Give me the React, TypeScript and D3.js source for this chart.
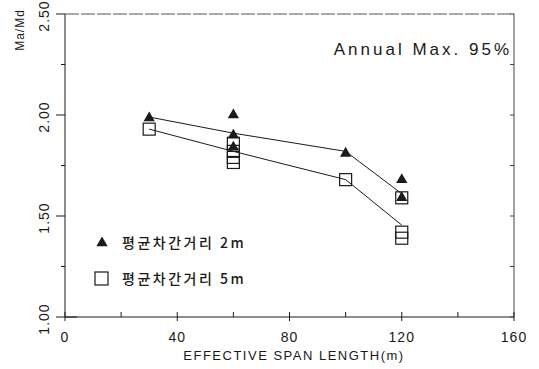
import React from "react";
import * as d3 from "d3";

const xTicks = [0, 40, 80, 120, 160];
const xMinorTicks = [0, 20, 40, 60, 80, 100, 120, 140, 160];
const yTicks = [1.0, 1.5, 2.0, 2.5];
const yTickLabels = ["1.00", "1.50", "2.00", "2.50"];
const yMinorTicks = [1.0, 1.25, 1.5, 1.75, 2.0, 2.25, 2.5];

// 평균차간거리 2m (triangles)
const triX = [30, 60, 60, 60, 100, 120, 120];
const triY = [1.985, 2.0, 1.9, 1.84, 1.81, 1.68, 1.59];
// 평균차간거리 5m (squares)
const sqX = [30, 60, 60, 60, 60, 100, 120, 120, 120];
const sqY = [1.93, 1.86, 1.82, 1.79, 1.765, 1.68, 1.59, 1.42, 1.39];

// mean lines
const lineX = [30, 60, 100, 120];
const line2Y = [1.99, 1.91, 1.82, 1.61];
const line5Y = [1.93, 1.82, 1.68, 1.455];

const legendLabels = ["평균차간거리 2m", "평균차간거리 5m"];
const annotation = "Annual  Max.  95%";
const xTitle = "EFFECTIVE  SPAN  LENGTH(m)";
const yTitle = "Ma/Md";

export default function App() {
  const W = 539, H = 369;
  const x = d3.scaleLinear().domain([0, 160]).range([65, 514]);
  const y = d3.scaleLinear().domain([1, 2.5]).range([317, 14]);
  const line = d3.line<[number, number]>().x(d => x(d[0])).y(d => y(d[1]));
  const l2 = line(lineX.map((v, i) => [v, line2Y[i]] as [number, number])) || "";
  const l5 = line(lineX.map((v, i) => [v, line5Y[i]] as [number, number])) || "";
  const tri = d3.symbol().type(d3.symbolTriangle).size(55)() || "";
  const font = "'Liberation Sans', 'DejaVu Sans', sans-serif";
  const ink = "#1a1a1a";
  return (
    <div style={{ position: "absolute", left: 0, top: 0 }}>
      <svg width={W} height={H} style={{ display: "block", background: "#fff" }}>
        {/* frame */}
        <line x1={x(0)} x2={x(160)} y1={y(1)} y2={y(1)} stroke={ink} strokeWidth={1} />
        <line x1={x(0)} x2={x(0)} y1={y(1)} y2={y(2.5)} stroke={ink} strokeWidth={1} />
        <line x1={x(0)} x2={x(160)} y1={y(2.5)} y2={y(2.5)} stroke="#555" strokeWidth={1} strokeDasharray="14 2" />
        <line x1={x(160)} x2={x(160)} y1={y(1)} y2={y(2.5)} stroke="#444" strokeWidth={1} />
        {/* x ticks */}
        {xMinorTicks.map(t => (
          <line key={"xt" + t} x1={x(t)} x2={x(t)} y1={y(1) - 5} y2={y(1) + (t % 40 === 0 ? 4 : 0)} stroke={ink} strokeWidth={1} />
        ))}
        {xTicks.map(t => (
          <text key={"xl" + t} x={x(t)} y={342} fontSize={14} fontFamily={font} fill={ink} textAnchor="middle" letterSpacing={1}>
            {t}
          </text>
        ))}
        {/* y ticks */}
        {yMinorTicks.map(t => (
          <line key={"yt" + t} x1={x(0) - (Math.abs((t * 2) % 1) < 1e-6 ? 9 : 4)} x2={x(0) + (t === 1 ? 12 : 0)} y1={y(t)} y2={y(t)} stroke={ink} strokeWidth={1} />
        ))}
        {yMinorTicks.map(t => (
          <line key={"yr" + t} x1={x(160) - 4} x2={x(160)} y1={y(t)} y2={y(t)} stroke="#444" strokeWidth={1} />
        ))}
        {yTicks.map((t, i) => (
          <text key={"yl" + t} transform={`translate(49,${y(t) + 2}) rotate(-90)`} fontSize={14} fontFamily={font} fill={ink} textAnchor="middle" letterSpacing={1}>
            {yTickLabels[i]}
          </text>
        ))}
        <text transform={`translate(24,30) rotate(-90)`} fontSize={12} fontFamily={font} fill={ink} textAnchor="middle" letterSpacing={1}>
          {yTitle}
        </text>
        <text x={294} y={360} fontSize={13} fontFamily={font} fill={ink} textAnchor="middle" letterSpacing={1.5}>
          {xTitle}
        </text>
        <text x={512} y={55} fontSize={17} fontFamily={font} fill={ink} textAnchor="end" letterSpacing={3}>
          {annotation}
        </text>
        {/* lines */}
        <path d={l2} fill="none" stroke={ink} strokeWidth={1} />
        <path d={l5} fill="none" stroke={ink} strokeWidth={1} />
        {/* squares */}
        {sqX.map((v, i) => (
          <rect key={"sq" + i} x={x(v) - 6} y={y(sqY[i]) - 6} width={12} height={12} fill="none" stroke={ink} strokeWidth={1.2} />
        ))}
        {/* triangles */}
        {triX.map((v, i) => (
          <path key={"tr" + i} d={tri} transform={`translate(${x(v)},${y(triY[i])})`} fill={ink} />
        ))}
        {/* legend */}
        <path d={tri} transform={`translate(102,243)`} fill={ink} />
        <text x={122} y={248} fontSize={14} fontFamily="'Noto Sans CJK KR', sans-serif" fill={ink} fontWeight={500} letterSpacing={2.5}>
          {legendLabels[0]}
        </text>
        <rect x={95} y={272} width={13} height={13} fill="none" stroke={ink} strokeWidth={1.2} />
        <text x={122} y={284} fontSize={14} fontFamily="'Noto Sans CJK KR', sans-serif" fill={ink} fontWeight={500} letterSpacing={2.5}>
          {legendLabels[1]}
        </text>
      </svg>
    </div>
  );
}
